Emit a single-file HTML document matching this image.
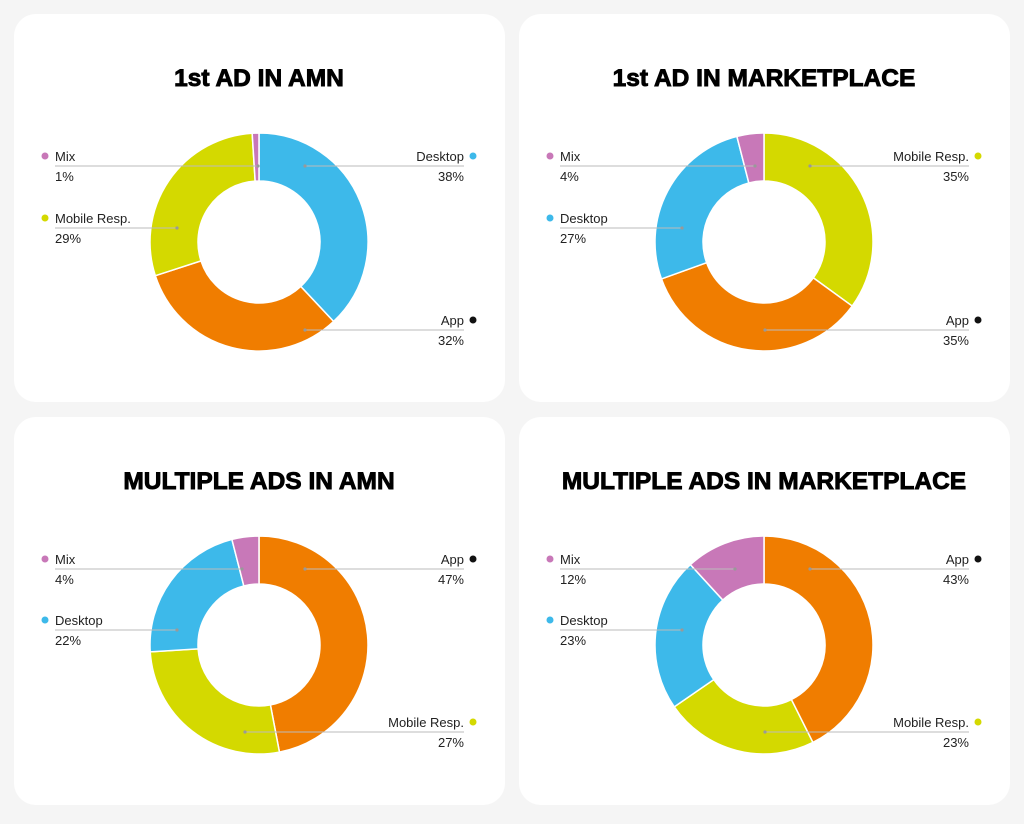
<!DOCTYPE html>
<html><head><meta charset="utf-8"><style>
body{margin:0;background:#f5f5f5;width:1024px;height:819px;overflow:hidden;font-family:"Liberation Sans",sans-serif}
</style></head><body>
<svg id="s" width="1024" height="819" xmlns="http://www.w3.org/2000/svg" font-family="Liberation Sans, sans-serif"></svg>
<script>
const C={b:'#3db9ea',o:'#f07d00',y:'#d4d900',p:'#c878b8',k:'#111'};
const charts=[
 {x:14,y:14,t:'1st AD IN AMN',cx:259,cy:242,sl:[[38,'b'],[32,'o'],[29,'y'],[1,'p']],
  lab:[['Mix','1%','p','L',156,258],['Mobile Resp.','29%','y','L',218,177],['Desktop','38%','b','R',156,305],['App','32%','k','R',320,305]]},
 {x:519,y:14,t:'1st AD IN MARKETPLACE',cx:764,cy:242,sl:[[35,'y'],[34.5,'o'],[26.5,'b'],[4,'p']],
  lab:[['Mix','4%','p','L',156,755],['Desktop','27%','b','L',218,682],['Mobile Resp.','35%','y','R',156,810],['App','35%','k','R',320,765]]},
 {x:14,y:417,t:'MULTIPLE ADS IN AMN',cx:259,cy:645,sl:[[47,'o'],[27,'y'],[22,'b'],[4,'p']],
  lab:[['Mix','4%','p','L',559,242],['Desktop','22%','b','L',620,177],['App','47%','k','R',559,305],['Mobile Resp.','27%','y','R',722,245]]},
 {x:519,y:417,t:'MULTIPLE ADS IN MARKETPLACE',cx:764,cy:645,sl:[[42.6,'o'],[22.8,'y'],[22.8,'b'],[11.8,'p']],
  lab:[['Mix','12%','p','L',559,735],['Desktop','23%','b','L',620,682],['App','43%','k','R',559,810],['Mobile Resp.','23%','y','R',722,765]]}
];
let h='';
const R=109,r=61;
function pt(cx,cy,rad,a){return [cx+rad*Math.sin(a),cy-rad*Math.cos(a)];}
for(const c of charts){
 h+=`<rect x="${c.x}" y="${c.y}" width="491" height="388" rx="22" fill="#fff"/>`;
 h+=`<text x="${c.x+245}" y="${c.y+72}" text-anchor="middle" font-size="24.5" font-weight="bold" fill="#000" stroke="#000" stroke-width="0.9">${c.t}</text>`;
 let a=0;
 for(const [v,k] of c.sl){
  const a2=a+v/100*2*Math.PI,lg=(a2-a)>Math.PI?1:0;
  const p1=pt(c.cx,c.cy,R,a),p2=pt(c.cx,c.cy,R,a2),p3=pt(c.cx,c.cy,r,a2),p4=pt(c.cx,c.cy,r,a);
  h+=`<path d="M${p1} A${R},${R} 0 ${lg} 1 ${p2} L${p3} A${r},${r} 0 ${lg} 0 ${p4}Z" fill="${C[k]}" stroke="#fff" stroke-width="1.5"/>`;
  a=a2;
 }
 for(const [n,v,k,side,y,ex] of c.lab){
  const ly=y+10;
  if(side=='L'){
   const lx=c.x+41;
   h+=`<circle cx="${c.x+31}" cy="${y}" r="3.5" fill="${C[k]}"/>`;
   h+=`<text x="${lx}" y="${y+5}" font-size="13" fill="#222">${n}</text><text x="${lx}" y="${y+25}" font-size="13" fill="#222">${v}</text>`;
   h+=`<line x1="${lx}" y1="${ly}" x2="${ex}" y2="${ly}" stroke="#bbb" stroke-width="1"/><circle cx="${ex}" cy="${ly}" r="1.6" fill="#999"/>`;
  }else{
   const rx=c.x+450;
   h+=`<circle cx="${c.x+459}" cy="${y}" r="3.5" fill="${C[k]}"/>`;
   h+=`<text x="${rx}" y="${y+5}" text-anchor="end" font-size="13" fill="#222">${n}</text><text x="${rx}" y="${y+25}" text-anchor="end" font-size="13" fill="#222">${v}</text>`;
   h+=`<line x1="${ex}" y1="${ly}" x2="${rx}" y2="${ly}" stroke="#bbb" stroke-width="1"/><circle cx="${ex}" cy="${ly}" r="1.6" fill="#999"/>`;
  }
 }
}
document.getElementById('s').innerHTML=h;
</script>
</body></html>
